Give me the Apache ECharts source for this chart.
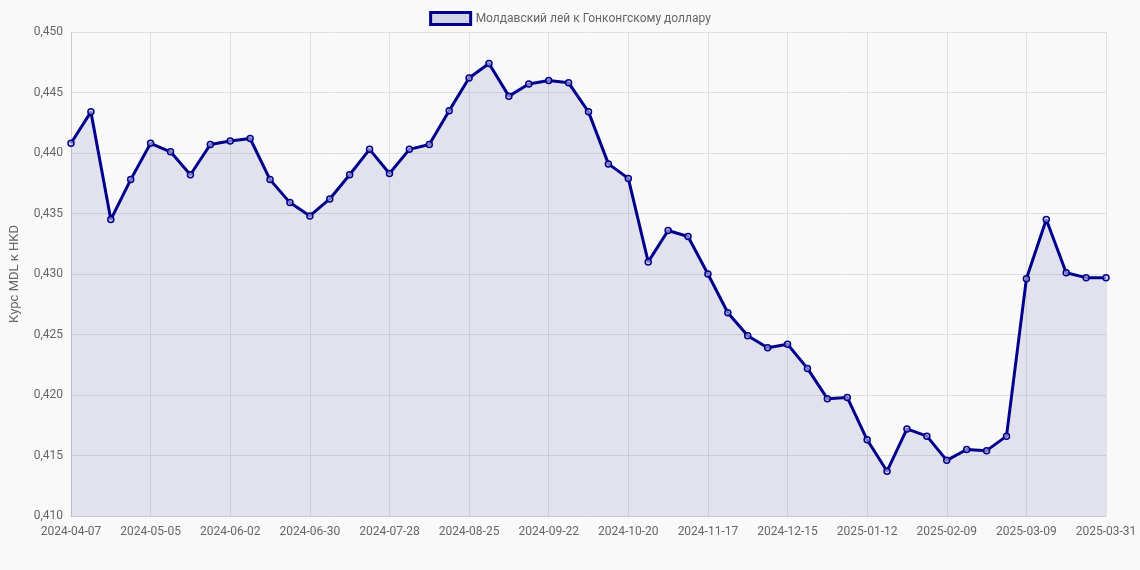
<!DOCTYPE html>
<html>
<head>
<meta charset="utf-8">
<script src="https://cdn.jsdelivr.net/npm/echarts@6/dist/echarts.min.js"></script>
<style>
  html, body { margin: 0; padding: 0; background: #f9f9f9; }
  #chart { width: 1140px; height: 570px; }
</style>
</head>
<body>
<div id="chart"></div>
<script>
// недельные даты
const dates = [
  '2024-04-07','2024-04-14','2024-04-21','2024-04-28','2024-05-05','2024-05-12','2024-05-19','2024-05-26',
  '2024-06-02','2024-06-09','2024-06-16','2024-06-23','2024-06-30','2024-07-07','2024-07-14','2024-07-21',
  '2024-07-28','2024-08-04','2024-08-11','2024-08-18','2024-08-25','2024-09-01','2024-09-08','2024-09-15',
  '2024-09-22','2024-09-29','2024-10-06','2024-10-13','2024-10-20','2024-10-27','2024-11-03','2024-11-10',
  '2024-11-17','2024-11-24','2024-12-01','2024-12-08','2024-12-15','2024-12-22','2024-12-29','2025-01-05',
  '2025-01-12','2025-01-19','2025-01-26','2025-02-02','2025-02-09','2025-02-16','2025-02-23','2025-03-02',
  '2025-03-09','2025-03-16','2025-03-23','2025-03-30','2025-03-31'
]
// курс MDL к HKD
const rates = [
  0.4408, 0.4434, 0.4345, 0.4378, 0.4408, 0.4401, 0.4382, 0.4407,
  0.4410, 0.4412, 0.4378, 0.4359, 0.4348, 0.4362, 0.4382, 0.4403,
  0.4383, 0.4403, 0.4407, 0.4435, 0.4462, 0.4474, 0.4447, 0.4457,
  0.4460, 0.4458, 0.4434, 0.4391, 0.4379, 0.4310, 0.4336, 0.4331,
  0.4300, 0.4268, 0.4249, 0.4239, 0.4242, 0.4222, 0.4197, 0.4198,
  0.4163, 0.4137, 0.4172, 0.4166, 0.4146, 0.4155, 0.4154, 0.4166,
  0.4296, 0.4345, 0.4301, 0.4297, 0.4297
]

const chart = echarts.init(document.getElementById('chart'))
const txt = { color: '#666', fontFamily: 'Roboto, sans-serif', fontSize: 12 }
chart.setOption({
  backgroundColor: '#f9f9f9',
  animation: false,
  legend: {
    top: 6,
    itemWidth: 40, itemHeight: 12,
    textStyle: txt,
    data: [{ name: 'Молдавский лей к Гонконгскому доллару', icon: 'rect',
      itemStyle: { color: 'rgba(0,0,139,0.15)', borderColor: '#00008b', borderWidth: 3 } }]
  },
  grid: { left: 68, right: 34, top: 32, bottom: 54 },
  xAxis: {
    type: 'category',
    data: dates,
    boundaryGap: false,
    axisLine: { lineStyle: { color: '#ccc' } },
    axisTick: { show: false },
    axisLabel: { ...txt, interval: 3, margin: 10 },
    splitLine: { show: true, interval: 3, lineStyle: { color: '#e0e0e0' } }
  },
  yAxis: {
    type: 'value',
    min: 0.41, max: 0.45, interval: 0.005,
    name: 'Курс MDL к HKD',
    nameLocation: 'middle',
    nameGap: 50,
    nameTextStyle: { ...txt, fontSize: 13 },
    axisLine: { show: true, lineStyle: { color: '#ccc' } },
    axisLabel: { ...txt, formatter: v => v.toFixed(3).replace('.', ',') },
    splitLine: { lineStyle: { color: '#e0e0e0' } }
  },
  series: [{
    name: 'Молдавский лей к Гонконгскому доллару',
    type: 'line',
    data: rates,
    symbol: 'circle',
    symbolSize: 6,
    itemStyle: { color: 'rgba(200,200,230,0.6)', borderColor: '#00008b', borderWidth: 1.5 },
    lineStyle: { color: '#00008b', width: 3 },
    areaStyle: { color: 'rgba(0,0,139,0.13)' }
  }]
})
</script>
</body>
</html>
